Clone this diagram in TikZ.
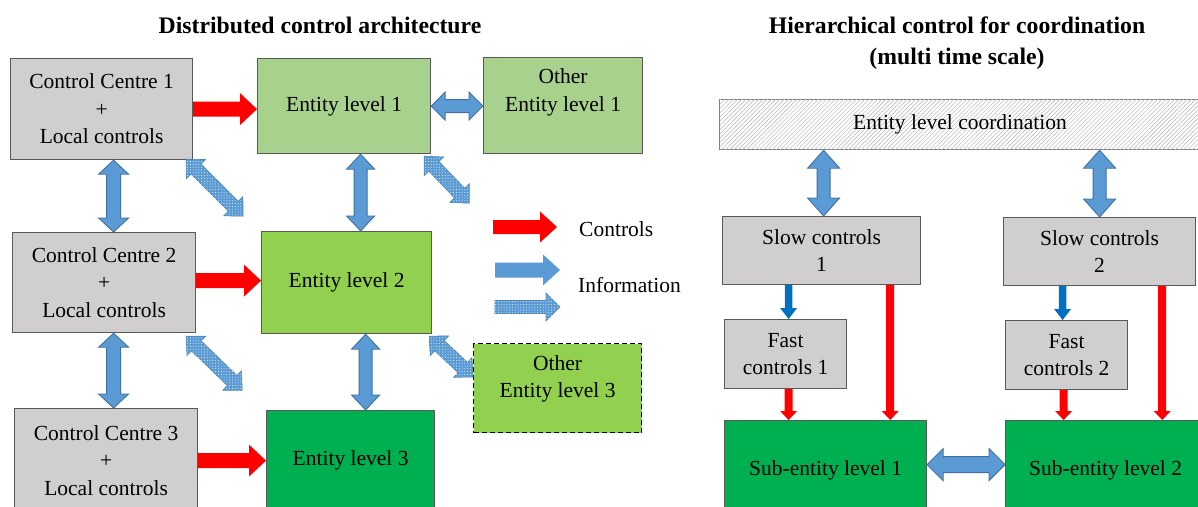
\documentclass[tikz,border=0pt]{standalone}
\usepackage{fontspec}
\setmainfont{Liberation Serif}
\usetikzlibrary{calc,patterns.meta}
\definecolor{boxgray}{HTML}{D0CECE}
\definecolor{boxline}{HTML}{595959}
\definecolor{lgreen}{HTML}{A9D18E}
\definecolor{mgreen}{HTML}{92D050}
\definecolor{dgreen}{HTML}{00B050}
\definecolor{bluefill}{HTML}{5B9BD5}
\definecolor{blueline}{HTML}{41719C}
\definecolor{darkblue}{HTML}{0070C0}
\definecolor{redarrow}{HTML}{FF0000}
\newcommand\bodyfont{\fontsize{21.5}{27.5}\selectfont}
\newcommand\titlefont{\fontsize{23.7}{31}\selectfont\bfseries}
% single block arrow: style, from, to, shaft half width, head half width, head length
\newcommand\sarrow[6]{%
  \coordinate (bam) at ($(#3)!#6!(#2)$);
  \path[#1] ($(#2)!#4!90:(#3)$) -- ($(bam)!#4!-90:(#2)$) -- ($(bam)!#5!-90:(#2)$) -- (#3)
    -- ($(bam)!#5!90:(#2)$) -- ($(bam)!#4!90:(#2)$) -- ($(#2)!#4!-90:(#3)$) -- cycle;}
% double block arrow
\newcommand\darrow[6]{%
  \coordinate (dam) at ($(#2)!#6!(#3)$);
  \coordinate (dan) at ($(#3)!#6!(#2)$);
  \path[#1] (#2) -- ($(dam)!#5!90:(#3)$) -- ($(dam)!#4!90:(#3)$) -- ($(dan)!#4!-90:(#2)$)
    -- ($(dan)!#5!-90:(#2)$) -- (#3) -- ($(dan)!#5!90:(#2)$) -- ($(dan)!#4!90:(#2)$)
    -- ($(dam)!#4!-90:(#3)$) -- ($(dam)!#5!-90:(#3)$) -- cycle;}
\begin{document}
\begin{tikzpicture}[x=1pt,y=-1pt,
  box/.style={draw=boxline, line width=1.2pt, rectangle, inner sep=0pt, anchor=north west, align=center, font=\bodyfont},
  graybox/.style={box, fill=boxgray},
  bluearrow/.style={fill=bluefill, draw=blueline, line width=0.9pt, line join=miter},
  dotarrow/.style={fill=bluefill, draw=bluefill!85!black, line width=0.6pt, postaction={pattern={Dots[radius=0.5pt,distance=2.8pt]}, pattern color=white}},
  redblock/.style={fill=redarrow},
  smallblue/.style={fill=darkblue},
  title/.style={font=\titlefont, align=center}]
\useasboundingbox (0,0) rectangle (1198,506);
\clip (0,0) rectangle (1198,506);
\fill[white] (0,0) rectangle (1198,506);

% titles
\node[title] (t1) at (320,25) {Distributed control architecture};
\node[title] (t2) at (957,43) {Hierarchical control for coordination\\(multi time scale)};

% left boxes
\node[graybox, minimum width=182pt, minimum height=101pt] (cc1) at (10,58) {Control Centre 1\\+\\Local controls};
\node[box, fill=lgreen, minimum width=173pt, minimum height=95pt] (e1) at (257,58) {Entity level 1};
\node[box, fill=lgreen, minimum width=159pt, minimum height=96pt,
  label={[font=\bodyfont, align=center, yshift=13pt]center:Other\\Entity level 1}] (oe1) at (483,57) {};
\node[graybox, minimum width=183pt, minimum height=100pt] (cc2) at (12,232) {Control Centre 2\\+\\Local controls};
\node[box, fill=mgreen, minimum width=170pt, minimum height=102pt] (e2) at (261,231) {Entity level 2};
\node[graybox, minimum width=183pt, minimum height=104pt] (cc3) at (14,408) {Control Centre 3\\+\\Local controls};
\node[box, fill=dgreen, minimum width=168pt, minimum height=100pt] (e3) at (266,410) {Entity level 3};
\node[box, fill=mgreen, draw=black, dash pattern=on 5pt off 3pt, minimum width=168pt, minimum height=89pt,
  label={[font=\bodyfont, align=center, yshift=9pt]center:Other\\Entity level 3}] (oe3) at (473,343) {};

% red control arrows
\coordinate (r1a) at (cc1.east); \coordinate (r1b) at (cc1.east -| e1.west);
\sarrow{redblock}{r1a}{r1b}{7.5pt}{16pt}{17pt}
\coordinate (r2a) at ($(cc2.east)+(0,-2)$); \coordinate (r2b) at (r2a -| e2.west);
\sarrow{redblock}{r2a}{r2b}{7.5pt}{16pt}{17pt}
\coordinate (r3a) at (cc3.east); \coordinate (r3b) at (cc3.east -| e3.west);
\sarrow{redblock}{r3a}{r3b}{7.5pt}{16pt}{17pt}

% vertical information arrows
\coordinate (v1a) at ($(cc1.south)+(12,0)$); \coordinate (v1b) at (v1a |- cc2.north);
\darrow{bluearrow}{v1a}{v1b}{7pt}{15pt}{14pt}
\coordinate (v2a) at ($(cc2.south)+(9.5,0)$); \coordinate (v2b) at (v2a |- cc3.north);
\darrow{bluearrow}{v2a}{v2b}{7pt}{15pt}{14pt}
\coordinate (v3a) at ($(e1.south)+(16.5,0)$); \coordinate (v3b) at (v3a |- e2.north);
\darrow{bluearrow}{v3a}{v3b}{6.5pt}{14pt}{15pt}
\coordinate (v4a) at ($(e2.south)+(19,0)$); \coordinate (v4b) at (v4a |- e3.north);
\darrow{bluearrow}{v4a}{v4b}{6.5pt}{14pt}{15pt}
\coordinate (h1a) at (e1.east); \coordinate (h1b) at (e1.east -| oe1.west);
\darrow{bluearrow}{h1a}{h1b}{6.5pt}{14pt}{14pt}

% dotted diagonal arrows
\coordinate (d1a) at ($(cc1.south east)+(-7,-1)$); \coordinate (d1b) at ($(cc1.south east)+(50,56)$);
\darrow{dotarrow}{d1a}{d1b}{7pt}{13.5pt}{14pt}
\coordinate (d2a) at ($(e1.south east)+(-7,2)$); \coordinate (d2b) at ($(e1.south east)+(38,49)$);
\darrow{dotarrow}{d2a}{d2b}{7pt}{13.5pt}{14pt}
\coordinate (d3a) at ($(cc2.south east)+(-10,3)$); \coordinate (d3b) at ($(cc2.south east)+(46,57)$);
\darrow{dotarrow}{d3a}{d3b}{7pt}{13.5pt}{14pt}
\coordinate (d4a) at ($(e2.south east)+(-3,2)$); \coordinate (d4b) at ($(oe3.north west)+(0,34)$);
\darrow{dotarrow}{d4a}{d4b}{7pt}{13.5pt}{14pt}

% legend
\coordinate (lg1a) at (493,227); \coordinate (lg1b) at (557,227);
\sarrow{redblock}{lg1a}{lg1b}{7pt}{15.5pt}{17pt}
\coordinate (lg2a) at (495,270); \coordinate (lg2b) at (560,270);
\sarrow{bluearrow, draw=none}{lg2a}{lg2b}{7.5pt}{15.5pt}{17pt}
\coordinate (lg3a) at (495,307); \coordinate (lg3b) at (560,307);
\sarrow{dotarrow}{lg3a}{lg3b}{6.5pt}{14pt}{14pt}
\node[anchor=west, font=\bodyfont, inner sep=0pt] (lgc) at (579,229) {Controls};
\node[anchor=west, font=\bodyfont, inner sep=0pt] (lgi) at (578,285) {Information};

% right side boxes
\node[box, draw=boxline!80, fill=white, minimum width=490pt, minimum height=50pt,
  postaction={pattern={Lines[angle=45,distance=3pt,line width=0.6pt]}, pattern color=gray!50}] (coord) at (719,99) {};
\node[font=\bodyfont] (coordt) at (coord.center -| 960,0) {Entity level coordination};
\node[graybox, minimum width=198pt, minimum height=68pt] (sc1) at (722,216) {Slow controls\\1};
\node[graybox, minimum width=192pt, minimum height=68pt] (sc2) at (1003,217) {Slow controls\\2};
\node[graybox, minimum width=122pt, minimum height=69pt] (fc1) at (724,319) {Fast\\controls 1};
\node[graybox, minimum width=122pt, minimum height=69pt] (fc2) at (1005,320) {Fast\\controls 2};
\node[box, fill=dgreen, minimum width=202pt, minimum height=100pt] (sub1) at (724,420) {Sub-entity level 1};
\node[box, fill=dgreen, minimum width=200pt, minimum height=100pt] (sub2) at (1005,420) {Sub-entity level 2};

% right arrows
\coordinate (c1a) at ($(sc1.north)+(2,0)$); \coordinate (c1b) at (c1a |- coord.south);
\darrow{bluearrow}{c1b}{c1a}{6.5pt}{16pt}{18pt}
\coordinate (c2a) at (sc2.north); \coordinate (c2b) at (c2a |- coord.south);
\darrow{bluearrow}{c2b}{c2a}{6.5pt}{16pt}{18pt}
\coordinate (s1b) at ($(fc1.north)+(3,0)$); \coordinate (s1a) at (s1b |- sc1.south);
\sarrow{smallblue}{s1a}{s1b}{3.8pt}{8.5pt}{11pt}
\coordinate (s2b) at ($(fc2.north)+(-4,0)$); \coordinate (s2a) at (s2b |- sc2.south);
\sarrow{smallblue}{s2a}{s2b}{3.8pt}{8.5pt}{11pt}
\coordinate (f1a) at ($(fc1.south)+(3,0)$); \coordinate (f1b) at (f1a |- sub1.north);
\sarrow{redblock}{f1a}{f1b}{4pt}{8.5pt}{9pt}
\coordinate (f2a) at ($(fc2.south)+(-3,0)$); \coordinate (f2b) at (f2a |- sub2.north);
\sarrow{redblock}{f2a}{f2b}{4pt}{8.5pt}{9pt}
\coordinate (l1a) at ($(sc1.south east)+(-31,0)$); \coordinate (l1b) at (l1a |- sub1.north);
\sarrow{redblock}{l1a}{l1b}{4pt}{8.5pt}{9pt}
\coordinate (l2a) at ($(sc2.south east)+(-34,0)$); \coordinate (l2b) at (l2a |- sub2.north);
\sarrow{redblock}{l2a}{l2b}{4pt}{8.5pt}{9pt}
\coordinate (ha) at ($(sub1.east)+(0,-6)$); \coordinate (hb) at (ha -| sub2.west);
\darrow{bluearrow}{ha}{hb}{8pt}{16pt}{16pt}
\end{tikzpicture}
\end{document}
